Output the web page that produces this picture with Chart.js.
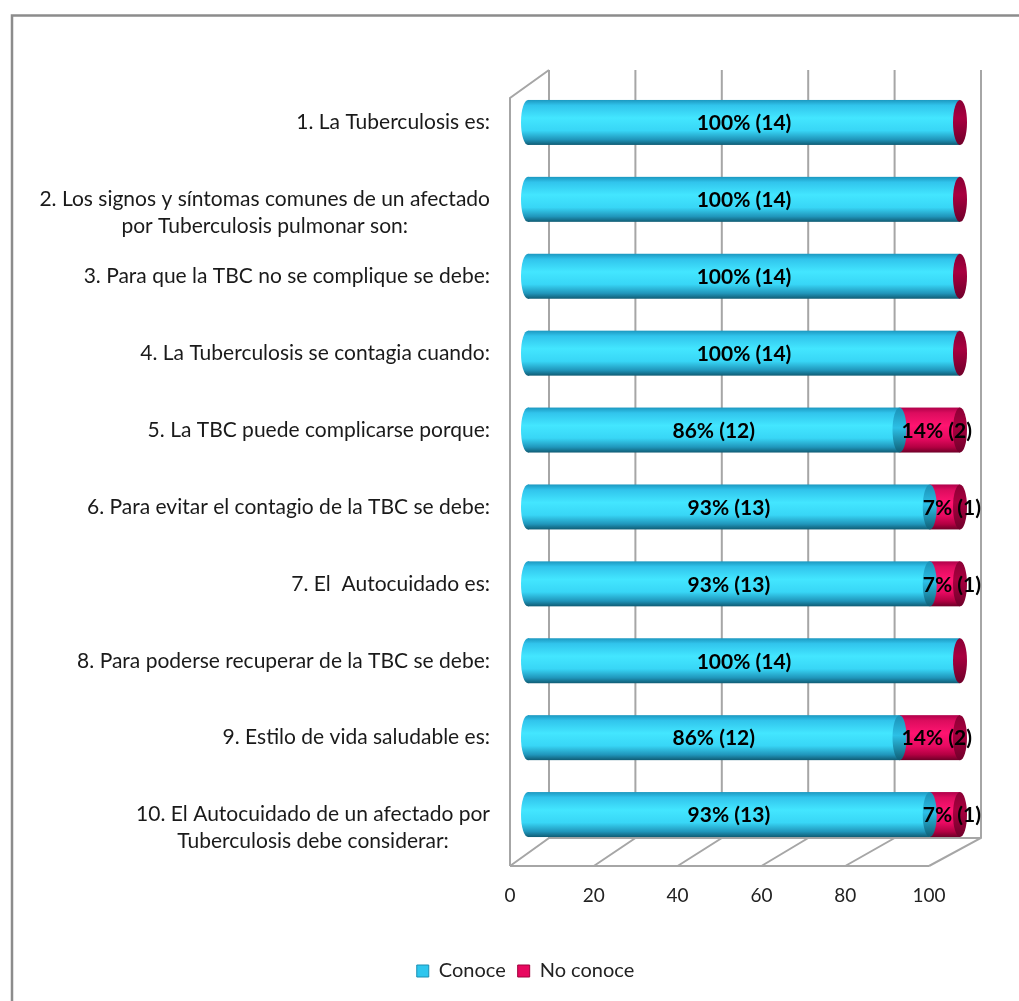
<!DOCTYPE html>
<html>
<head>
<meta charset="utf-8">
<script src="https://cdn.jsdelivr.net/npm/chart.js@4.4.1/dist/chart.umd.min.js"></script>
<style>
  html, body { margin: 0; padding: 0; background: #ffffff; }
  #wrap { width: 1019px; height: 1001px; }
</style>
</head>
<body>
<div id="wrap"><canvas id="myCanvas" width="1019" height="1001"></canvas></div>
<script>
'use strict';

// Question labels (multi line ones are arrays)
let questionLabels = [
  '1. La Tuberculosis es:',
  ['2. Los signos y síntomas comunes de un afectado', 'por Tuberculosis pulmonar son:'],
  '3. Para que la TBC no se complique se debe:',
  '4. La Tuberculosis se contagia cuando:',
  '5. La TBC puede complicarse porque:',
  '6. Para evitar el contagio de la TBC se debe:',
  '7. El  Autocuidado es:',
  '8. Para poderse recuperar de la TBC se debe:',
  '9. Estilo de vida saludable es:',
  ['10. El Autocuidado de un afectado por', 'Tuberculosis debe considerar:']
];
// percentages and counts for each series
let conocePercent = [100, 100, 100, 100, 86, 93, 93, 100, 86, 93];
let conoceCount = [14, 14, 14, 14, 12, 13, 13, 14, 12, 13];
let noConocePercent = [0, 0, 0, 0, 14, 7, 7, 0, 14, 7];
let noConoceCount = [0, 0, 0, 0, 2, 1, 1, 0, 2, 1];
let xTicks = [0, 20, 40, 60, 80, 100];

const fontFamily = 'Lato, "Open Sans", sans-serif';
const chartInfo = document.getElementById('myCanvas');

// offsets of the fake 3D box around the plot
const backDx = 21;
const frontDx = -18;
const frontScale = 0.97; // front edge is a bit shorter (perspective)

function cylinderGradient(ctx, top, bottom, stops) {
  let g = ctx.createLinearGradient(0, top, 0, bottom);
  for (let i = 0; i < stops.length; i++) {
    g.addColorStop(stops[i][0], stops[i][1]);
  }
  return g;
}

const cyanStops = [[0, '#1c98c0'], [0.12, '#31c4ec'], [0.4, '#43e6ff'], [0.68, '#38d6f6'], [0.88, '#2096bb'], [1, '#105c74']];
const pinkStops = [[0, '#b0004a'], [0.12, '#dc0c5e'], [0.4, '#ff1470'], [0.68, '#e90a62'], [0.88, '#b30042'], [1, '#6e0028']];
const capStops = [[0, '#8a0034'], [0.4, '#a8003f'], [1, '#70002a']];

function ellipse(ctx, cx, cy, rx, ry, fill) {
  ctx.beginPath();
  ctx.ellipse(cx, cy, rx, ry, 0, 0, Math.PI * 2);
  ctx.fillStyle = fill;
  ctx.fill();
}

// where a value sits on the front edge of the floor
function frontX(xScale, value) {
  let x0 = xScale.getPixelForValue(0);
  return x0 + frontDx + (xScale.getPixelForValue(value) - x0) * frontScale;
}

// Border around the whole picture + the 3D walls and grid
const framePlugin = {
  id: 'frame',
  beforeDraw(chart) {
    const ctx = chart.ctx;
    ctx.save();
    ctx.strokeStyle = '#8c8c8c';
    ctx.lineWidth = 2.5;
    ctx.strokeRect(12, 15.5, 1100, 1100);
    ctx.restore();
  },
  beforeDatasetsDraw(chart) {
    const ctx = chart.ctx;
    const area = chart.chartArea;
    const xScale = chart.scales.x;
    const backTop = area.top - 14;
    const backBottom = area.bottom - 15;
    const frontTop = area.top + 14;
    const frontBottom = area.bottom + 13;
    ctx.save();
    ctx.strokeStyle = '#a6a6a6';
    ctx.lineWidth = 2;
    for (let i = 0; i < xTicks.length; i++) {
      let px = xScale.getPixelForValue(xTicks[i]);
      ctx.beginPath();
      ctx.moveTo(px + backDx, backTop);
      ctx.lineTo(px + backDx, backBottom);
      ctx.lineTo(frontX(xScale, xTicks[i]), frontBottom);
      ctx.stroke();
    }
    let x0 = xScale.getPixelForValue(0);
    let x100 = xScale.getPixelForValue(100);
    ctx.beginPath();
    ctx.moveTo(frontX(xScale, 0), frontBottom);
    ctx.lineTo(frontX(xScale, 100), frontBottom);
    ctx.moveTo(x0 + backDx, backBottom);
    ctx.lineTo(x100 + backDx, backBottom);
    // left wall
    ctx.moveTo(frontX(xScale, 0), frontBottom);
    ctx.lineTo(frontX(xScale, 0), frontTop);
    ctx.lineTo(x0 + backDx, backTop);
    ctx.stroke();

    // tick labels along the front edge
    ctx.fillStyle = '#222222';
    ctx.font = '19px ' + fontFamily;
    ctx.textAlign = 'center';
    ctx.textBaseline = 'middle';
    for (let i = 0; i < xTicks.length; i++) {
      ctx.fillText(String(xTicks[i]), frontX(xScale, xTicks[i]), area.bottom + 43);
    }
    ctx.restore();
  },
  // skip the flat bars, the cylinders are painted below
  beforeDatasetDraw() {
    return false;
  },
  afterDatasetsDraw(chart) {
    const ctx = chart.ctx;
    const metaA = chart.getDatasetMeta(0);
    const metaB = chart.getDatasetMeta(1);
    ctx.save();
    for (let i = 0; i < metaA.data.length; i++) {
      let barA = metaA.data[i];
      let barB = metaB.data[i];
      let top = barA.y - barA.height / 2;
      let bottom = barA.y + barA.height / 2;
      let ry = barA.height / 2;
      let rx = 7;
      let cyan = cylinderGradient(ctx, top, bottom, cyanStops);
      let pink = cylinderGradient(ctx, top, bottom, pinkStops);
      let cap = cylinderGradient(ctx, top, bottom, capStops);
      if (noConocePercent[i] > 0) {
        ctx.fillStyle = pink;
        ctx.fillRect(barB.base, top, barB.x - barB.base, barA.height);
      }
      ellipse(ctx, barA.base, barA.y, rx, ry, cyan);
      ctx.fillStyle = cyan;
      ctx.fillRect(barA.base, top, barA.x - barA.base, barA.height);
      if (noConocePercent[i] > 0) {
        ellipse(ctx, barA.x, barA.y, rx, ry, cylinderGradient(ctx, top, bottom, [[0, '#1a8fb5'], [0.45, '#2cc0e6'], [1, '#0f5e75']]));
      }
      ellipse(ctx, barB.x, barB.y, rx, ry, cap);
    }
    // value labels
    ctx.fillStyle = '#000000';
    ctx.font = 'bold 21px ' + fontFamily;
    ctx.textAlign = 'center';
    ctx.textBaseline = 'middle';
    for (let i = 0; i < metaA.data.length; i++) {
      let barA = metaA.data[i];
      let barB = metaB.data[i];
      ctx.fillText(conocePercent[i] + '% (' + conoceCount[i] + ')', (barA.base + barA.x) / 2, barA.y + 1);
      if (noConocePercent[i] > 0) {
        ctx.fillText(noConocePercent[i] + '% (' + noConoceCount[i] + ')', (barB.base + barB.x) / 2 + 7, barB.y + 1);
      }
    }
    ctx.restore();
  },
  // category labels, lines centred on each other like the original
  afterDraw(chart) {
    const ctx = chart.ctx;
    const yScale = chart.scales.y;
    const xScale = chart.scales.x;
    let rightEdge = xScale.getPixelForValue(0) - 38;
    ctx.save();
    ctx.fillStyle = '#1a1a1a';
    ctx.font = '21px ' + fontFamily;
    ctx.textAlign = 'center';
    ctx.textBaseline = 'middle';
    for (let i = 0; i < questionLabels.length; i++) {
      let lines = Array.isArray(questionLabels[i]) ? questionLabels[i] : [questionLabels[i]];
      let maxW = 0;
      for (let line of lines) {
        maxW = Math.max(maxW, ctx.measureText(line).width);
      }
      let cy = yScale.getPixelForValue(i);
      for (let j = 0; j < lines.length; j++) {
        ctx.fillText(lines[j], rightEdge - maxW / 2, cy + j * 27);
      }
    }
    ctx.restore();
  }
};

const data = {
  labels: questionLabels,
  datasets: [{
    label: 'Conoce',
    data: conocePercent,
    backgroundColor: '#2ec6ee',
    borderColor: '#1b8fb3',
    borderWidth: 1,
    barPercentage: 0.65,
    categoryPercentage: 0.9
  },
  {
    label: 'No conoce',
    data: noConocePercent,
    backgroundColor: '#e8085f',
    borderColor: '#a0003c',
    borderWidth: 1,
    barPercentage: 0.65,
    categoryPercentage: 0.9
  }]
};

const config = {
  type: 'bar',
  data: data,
  options: {
    indexAxis: 'y',
    responsive: false,
    animation: false,
    layout: {
      padding: { left: 32, right: 0, top: 84, bottom: 10 }
    },
    plugins: {
      tooltip: { enabled: false },
      legend: {
        position: 'bottom',
        labels: {
          color: '#222222',
          boxWidth: 12,
          boxHeight: 12,
          padding: 12,
          font: { family: fontFamily, size: 20 }
        }
      }
    },
    scales: {
      x: {
        stacked: true,
        min: 0,
        max: 100,
        afterFit(scale) {
          scale.height = 96;
        },
        ticks: { stepSize: 20, display: false },
        grid: { display: false },
        border: { display: false }
      },
      y: {
        stacked: true,
        position: 'left',
        afterFit(scale) {
          scale.width = 496;
        },
        ticks: { display: false },
        grid: { display: false },
        border: { display: false }
      },
      // empty axis on the right, only keeps the plot away from the edge
      yRight: {
        position: 'right',
        afterFit(scale) {
          scale.width = 59;
        },
        ticks: { display: false },
        grid: { display: false },
        border: { display: false }
      }
    }
  },
  plugins: [framePlugin]
};

const myChart = new Chart(chartInfo, config);
</script>
</body>
</html>
